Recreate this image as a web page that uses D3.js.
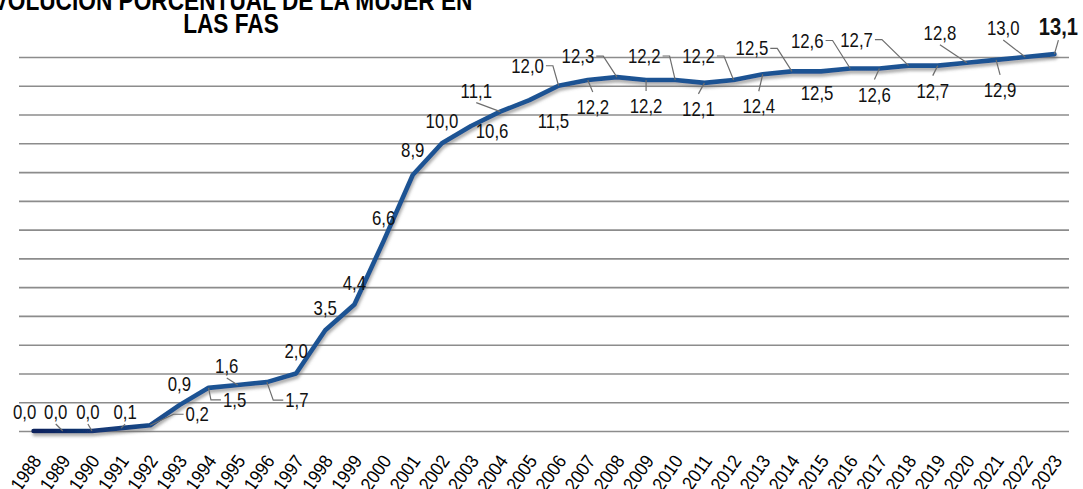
<!DOCTYPE html>
<html>
<head>
<meta charset="utf-8">
<script src="https://cdn.jsdelivr.net/npm/d3@7"></script>
<style>
  body { margin: 0; background: #fff; }
  svg { display: block; }
</style>
</head>
<body>
<svg></svg>
<script>
const WIDTH = 1083;
const HEIGHT = 489;

// data
const years = ['1988','1989','1990','1991','1992','1993','1994','1995','1996','1997','1998','1999',
               '2000','2001','2002','2003','2004','2005','2006','2007','2008','2009','2010','2011',
               '2012','2013','2014','2015','2016','2017','2018','2019','2020','2021','2022','2023'];
const values = [0.0, 0.0, 0.0, 0.1, 0.2, 0.9, 1.5, 1.6, 1.7, 2.0, 3.5, 4.4,
                6.6, 8.9, 10.0, 10.6, 11.1, 11.5, 12.0, 12.2, 12.3, 12.2, 12.2, 12.1,
                12.2, 12.4, 12.5, 12.5, 12.6, 12.6, 12.7, 12.7, 12.8, 12.9, 13.0, 13.1];
const gridValues = [0, 1, 2, 3, 4, 5, 6, 7, 8, 9, 10, 11, 12, 13];
const titleLines = ['EVOLUCIÓN PORCENTUAL DE LA MUJER EN', 'LAS FAS'];

// where each data label sits relative to its point: [dx, dy, leader]
const labelOffsets = [
  [-9,-12,'none'], [-7,-12,'bottom'], [-4,-12,'bottom'], [4,-9,'bottom'], [47,-4,'left'],
  [0,-14,'none'], [26,19,'left'], [-11,-12,'bottom'], [30,25,'left'], [0,-15,'none'],
  [0,-15,'none'], [0,-14,'none'], [0,-16,'none'], [0,-18,'none'], [0,-15,'none'],
  [21,12,'none'], [-24,-14,'bottom'], [24,28,'none'], [-31,-13,'right'], [5,34,'top'],
  [-39,-14,'right'], [0,33,'top'], [-31,-17,'right'], [-6,33,'top'], [-35,-17,'right'],
  [-4,39,'top'], [-40,-16,'right'], [-4,29,'none'], [-43,-21,'right'], [-5,33,'top'],
  [-52,-19,'right'], [-5,32,'top'], [-27,-23,'bottom'], [4,37,'top'], [-22,-22,'bottom'],
  [4,-19,'bottom']
];

const data = years.map((y, i) => ({ year: y, value: values[i], off: labelOffsets[i] }));

const svg = d3.select('svg')
    .attr('width', WIDTH)
    .attr('height', HEIGHT);

// no narrow font installed, so squeeze Liberation Sans horizontally
const FONT = "'Liberation Sans', Arial, sans-serif";
const NARROW = 0.84;

var xScale = d3.scalePoint().domain(years).range([19, 1069]).padding(0.5);
var yScale = d3.scaleLinear().domain([0, 13]).range([431, 57]);

// defs: shadow under the line, gradient from navy to blue
const defs = svg.append('defs');
const shadow = defs.append('filter').attr('id', 'shadow')
    .attr('x', '-5%').attr('y', '-20%').attr('width', '110%').attr('height', '140%');
shadow.append('feDropShadow')
    .attr('dx', 1).attr('dy', 3).attr('stdDeviation', 1.4)
    .attr('flood-color', '#6b6b6b').attr('flood-opacity', 0.55);
const grad = defs.append('linearGradient').attr('id', 'lineGrad')
    .attr('gradientUnits', 'userSpaceOnUse')
    .attr('x1', xScale('1988')).attr('x2', xScale('1993')).attr('y1', 0).attr('y2', 0);
grad.append('stop').attr('offset', '0%').attr('stop-color', '#0b215c');
grad.append('stop').attr('offset', '100%').attr('stop-color', '#1d5393');

// horizontal gridlines
var leftAxis = d3.axisLeft(yScale)
    .tickValues(gridValues)
    .tickSize(-(1069 - 19))
    .tickFormat('');
svg.append('g').attr('id', 'grid')
    .attr('transform', 'translate(19,0)')
    .call(leftAxis)
    .call(g => g.select('.domain').remove())
    .call(g => g.selectAll('line').attr('stroke', '#8c8c8c').attr('stroke-width', 1.6));

// year labels
var bottomAxis = d3.axisBottom(xScale).tickSize(0);
svg.append('g').attr('id', 'bottom-axis')
    .attr('transform', 'translate(0,431)')
    .call(bottomAxis)
    .call(g => g.select('.domain').remove())
    .call(g => g.selectAll('text')
        .attr('font-family', FONT)
        .attr('font-size', 19)
        .attr('fill', '#000')
        .attr('text-anchor', 'end')
        .attr('dy', null)
        .attr('y', 0)
        .attr('transform', 'translate(8,30) rotate(-55) scale(0.9,1)'));

// data labels
const labelG = svg.append('g').attr('id', 'labels');
const leaderG = labelG.append('g');
const texts = labelG.selectAll('text')
    .data(data)
    .enter()
    .append('text')
    .attr('transform', d => 'translate(' + (xScale(d.year) + d.off[0]) + ',' +
                               (yScale(d.value) + d.off[1]) + ') scale(' + NARROW + ',1)')
    .attr('text-anchor', 'middle')
    .attr('font-family', FONT)
    .attr('font-size', (d, i) => i === data.length - 1 ? 24 : 20)
    .attr('font-weight', (d, i) => i === data.length - 1 ? 'bold' : 'normal')
    .attr('fill', '#111')
    .text(d => d.value.toFixed(1).replace('.', ','));

// leader lines from label to point
texts.each(function(d) {
    const w = this.getComputedTextLength() * NARROW;
    const px = xScale(d.year), py = yScale(d.value);
    const cx = px + d.off[0], base = py + d.off[1];
    const midY = base - 7;
    let pts = null;
    if (d.off[2] === 'right') pts = [[cx + w / 2 + 2, midY], [cx + w / 2 + 9, midY], [px, py]];
    else if (d.off[2] === 'left') pts = [[cx - w / 2 - 2, midY], [cx - w / 2 - 12, midY], [px, py]];
    else if (d.off[2] === 'bottom') pts = [[cx, base + 5], [px, py]];
    else if (d.off[2] === 'top') pts = [[cx, base - 22], [px, py]];
    if (pts) {
        leaderG.append('path')
            .attr('d', d3.line()(pts))
            .attr('fill', 'none')
            .attr('stroke', '#6e6e6e')
            .attr('stroke-width', 1.2);
    }
});

// the line
var line = d3.line()
    .x(d => xScale(d.year))
    .y(d => yScale(d.value));
svg.append('path')
    .datum(data)
    .attr('d', line)
    .attr('fill', 'none')
    .attr('stroke', 'url(#lineGrad)')
    .attr('stroke-width', 4.6)
    .attr('stroke-linejoin', 'round')
    .attr('stroke-linecap', 'round')
    .attr('filter', 'url(#shadow)');

// labels above the line
svg.node().appendChild(labelG.node());

// title (first line runs off the top edge)
svg.append('g').attr('id', 'title')
    .selectAll('text')
    .data(titleLines)
    .enter()
    .append('text')
    .attr('transform', (d, i) => 'translate(' + (i === 0 ? 225 : 231) + ',' + (i === 0 ? 10 : 33) +
                                 ') scale(' + NARROW + ',1)')
    .attr('text-anchor', 'middle')
    .attr('font-family', FONT)
    .attr('font-weight', 'bold')
    .attr('font-size', 27)
    .attr('fill', '#000')
    .text(d => d);
</script>
</body>
</html>
